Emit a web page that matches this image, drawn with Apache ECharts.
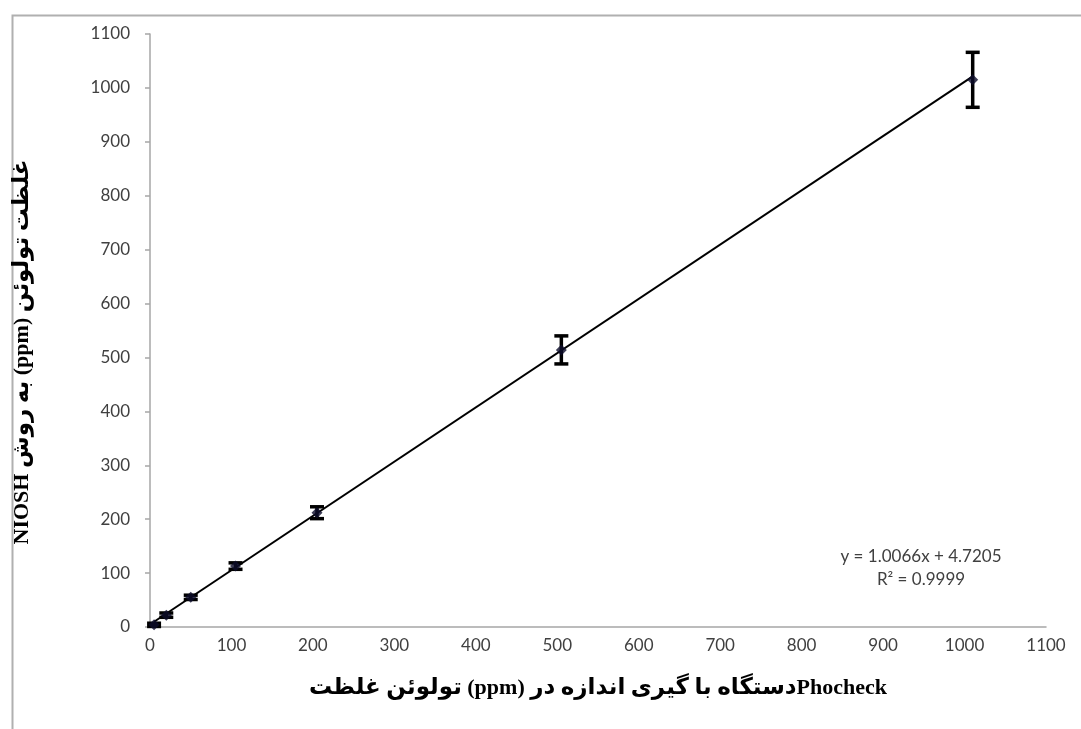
<!DOCTYPE html>
<html>
<head>
<meta charset="utf-8">
<script src="https://cdn.jsdelivr.net/npm/echarts@6/dist/echarts.min.js"></script>
<style>html,body{margin:0;padding:0;background:#fff;}#c{width:1081px;height:729px;}</style>
</head>
<body>
<div id="c"></div>
<script>
// Data
const xValues = [5, 20, 50, 105, 205, 505, 1010];
const yValues = [4, 22, 55, 113, 212, 514, 1015];
const yErrors = [3, 4, 4, 6, 11, 26, 51];
const trendX = [5, 1010];
const trendY = [9.75, 1021.4];
const axisTicks = [0, 100, 200, 300, 400, 500, 600, 700, 800, 900, 1000, 1100];
const eqLine1 = 'y = 1.0066x + 4.7205';
const eqLine2 = 'R² = 0.9999';
// Title words in the visual left-to-right order of the reference
const xTitleTokens = [['ar', 'غلظت'], ['ar', 'تولوئن'], ['la', '(ppm)'], ['ar', 'در'], ['ar', 'اندازه'], ['ar', 'گیری'], ['ar', 'با'], ['ar', 'دستگاه'], ['la', 'Phocheck']];
const yTitleTokens = [['la', 'NIOSH'], ['ar', 'روش'], ['ar', 'به'], ['la', '(ppm)'], ['ar', 'تولوئن'], ['ar', 'غلظت']];

const points = xValues.map((x, i) => [x, yValues[i]]);
const errData = xValues.map((x, i) => [x, yValues[i] - yErrors[i], yValues[i] + yErrors[i]]);
const trend = trendX.map((x, i) => [x, trendY[i]]);

function richText(tokens) {
  let s = '';
  tokens.forEach((t, i) => {
    s += '{' + t[0] + '|' + t[1] + '}';
    const next = tokens[i + 1];
    if (next && !(t[1] === 'دستگاه' && next[1] === 'Phocheck')) s += '{sp| }';
  });
  return s;
}
const titleRich = {
  ar: {fontFamily: '"DejaVu Sans", sans-serif', fontWeight: 'bold', fontSize: 23, fill: '#000', color: '#000'},
  la: {fontFamily: '"Liberation Serif", serif', fontWeight: 'bold', fontSize: 22, fill: '#000', color: '#000'},
  sp: {fontFamily: '"Liberation Serif", serif', fontWeight: 'bold', fontSize: 22, fill: '#000', color: '#000'}
};

const chart = echarts.init(document.getElementById('c'), null, {renderer: 'canvas'});
const labelFont = {fontFamily: 'Lato', fontSize: 17, color: '#404040', formatter: v => String(v)};
const axisLineStyle = {color: '#a6a6a6', width: 1.5};

chart.setOption({
  animation: false,
  backgroundColor: '#ffffff',
  grid: {left: 150, right: 35, top: 34, bottom: 102, containLabel: false},
  xAxis: {
    type: 'value', min: axisTicks[0], max: axisTicks[axisTicks.length - 1], interval: 100,
    axisLine: {show: true, lineStyle: axisLineStyle},
    axisTick: {show: false},
    splitLine: {show: false},
    axisLabel: Object.assign({margin: 10}, labelFont)
  },
  yAxis: {
    type: 'value', min: axisTicks[0], max: axisTicks[axisTicks.length - 1], interval: 100,
    axisLine: {show: true, lineStyle: axisLineStyle},
    axisTick: {show: true, length: 5, inside: false, lineStyle: axisLineStyle},
    splitLine: {show: false},
    axisLabel: Object.assign({margin: 20}, labelFont)
  },
  graphic: [
    {type: 'rect', left: 10, top: 13, z: -10, silent: true,
     shape: {x: 0, y: 0, width: 1100, height: 800},
     style: {fill: 'none', stroke: '#b0b0b0', lineWidth: 2}},
    {type: 'text', x: 598, y: 688, z: 10,
     style: {text: richText(xTitleTokens), rich: titleRich, align: 'center', verticalAlign: 'middle',
             font: 'bold 22px "Liberation Serif", serif', fill: '#000'}},
    {type: 'text', x: 22, y: 352, rotation: Math.PI / 2, z: 10,
     style: {text: richText(yTitleTokens), rich: titleRich, align: 'center', verticalAlign: 'middle',
             font: 'bold 22px "Liberation Serif", serif', fill: '#000'}},
    {type: 'text', x: 921, y: 557, z: 10,
     style: {text: eqLine1, align: 'center', verticalAlign: 'middle',
             font: '17px Lato', fill: '#404040'}},
    {type: 'text', x: 921, y: 580, z: 10,
     style: {text: eqLine2, align: 'center', verticalAlign: 'middle',
             font: '17px Lato', fill: '#404040'}}
  ],
  series: [
    {
      type: 'line', data: trend, showSymbol: false, symbol: 'none',
      lineStyle: {color: '#000', width: 2}, z: 2
    },
    {
      type: 'custom', z: 3,
      renderItem: function (params, api) {
        const x = api.value(0);
        const lo = api.coord([x, api.value(1)]);
        const hi = api.coord([x, api.value(2)]);
        const hw = 7;
        const st = {stroke: '#000', lineWidth: 3.5};
        return {
          type: 'group',
          children: [
            {type: 'line', shape: {x1: lo[0], y1: lo[1], x2: hi[0], y2: hi[1]}, style: st},
            {type: 'line', shape: {x1: lo[0] - hw, y1: lo[1], x2: lo[0] + hw, y2: lo[1]}, style: st},
            {type: 'line', shape: {x1: hi[0] - hw, y1: hi[1], x2: hi[0] + hw, y2: hi[1]}, style: st}
          ]
        };
      },
      encode: {x: 0, y: [1, 2]},
      data: errData
    },
    {
      type: 'scatter', data: points, symbol: 'diamond', symbolSize: 11,
      itemStyle: {color: '#0d0d2b'}, z: 4
    }
  ]
});
</script>
</body>
</html>
